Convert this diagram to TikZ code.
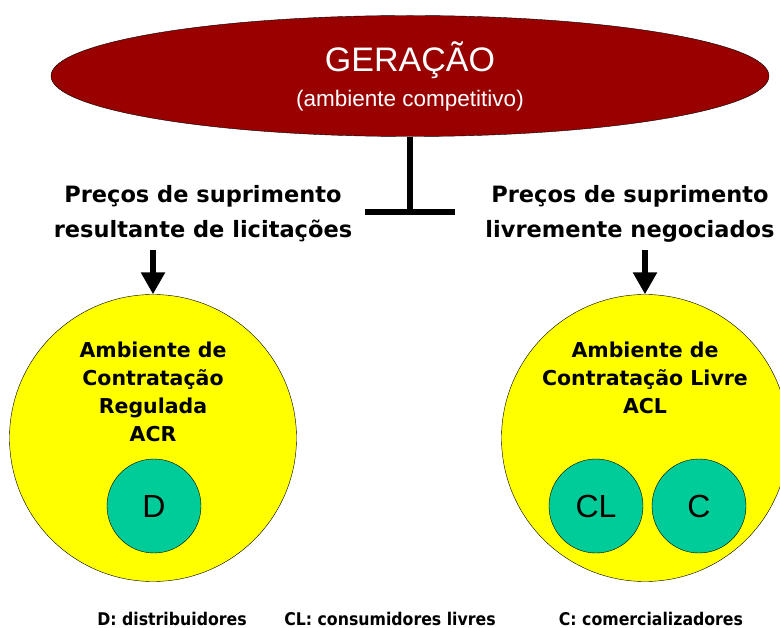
\documentclass[tikz,border=0pt]{standalone}
\usepackage{fontspec}
\setmainfont{Liberation Sans}
\newfontfamily\verdfont{DejaVu Sans}
\newfontfamily\narrowfont{DejaVu Sans Condensed}
\usetikzlibrary{shapes.geometric,arrows.meta}
\definecolor{genred}{HTML}{990000}
\definecolor{envyellow}{HTML}{FFFF00}
\definecolor{agentgreen}{HTML}{00CC99}
\tikzset{
  envcircle/.style={circle,draw=black,thin,fill=envyellow,minimum size=287pt,inner sep=0pt},
  agent/.style={circle,draw=black,thin,fill=agentgreen,minimum size=94pt,inner sep=0pt,font=\fontsize{32}{32}\selectfont},
  envtext/.style={align=center,font=\verdfont\bfseries\fontsize{20.5}{28}\selectfont},
  pricetext/.style={align=center,font=\verdfont\bfseries\fontsize{22.5}{35}\selectfont},
  legendtext/.style={inner sep=0pt,anchor=base,font=\narrowfont\bfseries\fontsize{17.5}{18}\selectfont},
  feed/.style={-{Triangle[width=23pt,length=22pt]},line width=5.5pt}
}
\begin{document}
\begin{tikzpicture}[x=1pt,y=-1pt]
        \useasboundingbox (0,0) rectangle (780,628);

        % Generation ellipse
        \node[ellipse,draw=black,thin,fill=genred,minimum width=718pt,minimum height=121pt] (gen) at (410,76) {};
        \node[text=white,font=\fontsize{34}{34}\selectfont] (gentitle) at (410,60) {GERAÇÃO};
        \node[text=white,font=\fontsize{22.5}{22.5}\selectfont] (gensub) at (410,101) {(ambiente competitivo)};

        % T connector
        \coordinate (tjoin) at (410,212);
        \coordinate (tleft) at (365,212);
        \coordinate (tright) at (455,212);
        \draw[line width=6pt] (gen.south) -- (tjoin);
        \draw[line width=6pt] (tleft) -- (tright);

        % Supply prices
        \node[pricetext] (pricel) at (203,214) {Preços de suprimento\\resultante de licitações};
        \node[pricetext] (pricer) at (630,214) {Preços de suprimento\\livremente negociados};

        % Contracting environments
        \node[envcircle] (acr) at (153,438) {};
        \node[envcircle] (acl) at (645,438) {};
        \node[envtext] (acrtext) at (153,392) {Ambiente de\\Contratação\\Regulada\\ACR};
        \node[envtext] (acltext) at (645,378) {Ambiente de\\Contratação Livre\\ACL};

        \coordinate (feedl) at (153,250);
        \coordinate (feedr) at (645,250);
        \draw[feed] (feedl) -- (acr.north);
        \draw[feed] (feedr) -- (acl.north);

        % Agents
        \node[agent] (dist) at (154,506) {D};
        \node[agent] (cons) at (596,506) {CL};
        \node[agent] (comm) at (699,506) {C};

        % Legend
        \node[legendtext] (legd) at (172,625) {D: distribuidores};
        \node[legendtext] (legcl) at (390,625) {CL: consumidores livres};
        \node[legendtext] (legc) at (651,625) {C: comercializadores};
\end{tikzpicture}
\end{document}
